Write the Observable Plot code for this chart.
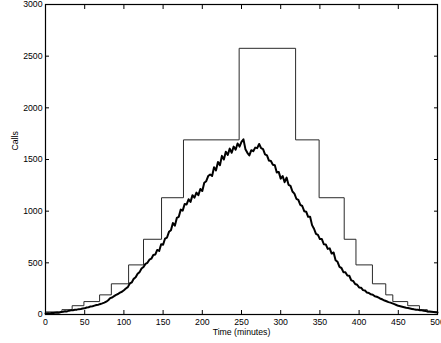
<!DOCTYPE html>
<html>
<head>
<meta charset="utf-8">
<script src="https://cdn.jsdelivr.net/npm/d3@7"></script>
<script src="https://cdn.jsdelivr.net/npm/@observablehq/plot@0.6"></script>
<style>
  html, body { margin: 0; padding: 0; background: #fff; }
  #chart { width: 441px; height: 343px; }
</style>
</head>
<body>
<div id="chart"></div>
<script>
// Step (histogram-like) series: bin edges (minutes) and calls per bin
const stepEdges = [0, 21, 34, 49, 69, 84, 106, 125, 148, 176, 247, 319, 349, 381, 396, 417, 434, 443, 462, 477, 487, 500];
const stepCalls = [25, 47, 85, 125, 190, 297, 480, 728, 1130, 1690, 2576, 1690, 1130, 728, 480, 297, 190, 125, 85, 47, 25];

// Noisy curve: sampled every 2.5 minutes from 0 to 500
const curveStep = 2.5;
const curveCalls = [
  10, 12, 11, 14, 15, 17, 19, 18, 24, 27,
  32, 30, 37, 40, 42, 46, 47, 52, 53, 58,
  60, 68, 70, 78, 80, 86, 92, 95, 102, 108,
  115, 124, 138, 158, 165, 178, 190, 198, 212, 220,
  235, 252, 265, 300, 310, 345, 360, 395, 410, 445,
  460, 490, 500, 530, 540, 575, 580, 625, 615, 680,
  675, 735, 745, 800, 815, 885, 860, 935, 945, 1015,
  1005, 1070, 1065, 1115, 1090, 1155, 1130, 1180, 1155, 1215,
  1195, 1275, 1290, 1340, 1355, 1340, 1425, 1395, 1475, 1445,
  1535, 1500, 1575, 1545, 1605, 1565, 1625, 1595, 1655, 1625,
  1670, 1695, 1600, 1565, 1540, 1590, 1580, 1615, 1610, 1650,
  1610, 1600, 1550, 1540, 1490, 1485, 1450, 1445, 1375, 1380,
  1315, 1340, 1280, 1325, 1255, 1245, 1190, 1170, 1120, 1110,
  1060, 1050, 1000, 995, 945, 945, 865, 830, 780, 770,
  730, 730, 680, 678, 635, 640, 590, 600, 525, 510,
  460, 450, 410, 408, 378, 375, 330, 325, 295, 288,
  262, 260, 236, 232, 212, 208, 195, 192, 177, 172,
  163, 152, 145, 135, 128, 120, 115, 108, 100, 92,
  84, 80, 75, 70, 65, 62, 58, 54, 50, 47,
  45, 42, 40, 36, 33, 30, 28, 26, 24, 22,
  20
];

const xTicks = [0, 50, 100, 150, 200, 250, 300, 350, 400, 450, 500];
const yTicks = [0, 500, 1000, 1500, 2000, 2500, 3000];
const xLabel = "Time (minutes)";
const yLabel = "Calls";

const stepData = stepEdges.map((t, i) => ({t, calls: stepCalls[Math.min(i, stepCalls.length - 1)]}));
const curveData = curveCalls.map((c, i) => ({t: i * curveStep, calls: c}));
const fmt = d3.format("d");

const chart = Plot.plot({
  width: 441,
  height: 343,
  marginLeft: 45,
  marginRight: 4,
  marginTop: 4,
  marginBottom: 29,
  x: {domain: [0, 500]},
  y: {domain: [0, 3000]},
  style: {fontFamily: "'Liberation Sans', Arial, Helvetica, sans-serif", fontSize: "8.7px", background: "white", color: "black", overflow: "visible"},
  marks: [
    Plot.line(stepData, {x: "t", y: "calls", curve: "step-after", stroke: "#2a2a2a", strokeWidth: 1}),
    Plot.line(curveData, {x: "t", y: "calls", stroke: "black", strokeWidth: 2}),
    Plot.axisX(xTicks, {anchor: "bottom", tickSize: 0, tickPadding: 4, tickFormat: fmt, label: null}),
    Plot.axisY(yTicks, {anchor: "left", tickSize: 0, tickPadding: 3, tickFormat: fmt, label: null}),
    Plot.axisX(xTicks, {anchor: "bottom", tickSize: -4, tickFormat: () => "", label: null}),
    Plot.axisX(xTicks, {anchor: "top", tickSize: -4, tickFormat: () => "", label: null}),
    Plot.axisY(yTicks, {anchor: "left", tickSize: -4, tickFormat: () => "", label: null}),
    Plot.axisY(yTicks, {anchor: "right", tickSize: -4, tickFormat: () => "", label: null}),
    Plot.frame({stroke: "black", strokeWidth: 1.2}),
    Plot.text([xLabel], {frameAnchor: "bottom", dy: 18, lineAnchor: "middle", text: d => d}),
    Plot.text([yLabel], {frameAnchor: "left", dx: -30, dy: -9, rotate: -90, lineAnchor: "middle", text: d => d})
  ]
});
document.getElementById("chart").appendChild(chart);
</script>
</body>
</html>
